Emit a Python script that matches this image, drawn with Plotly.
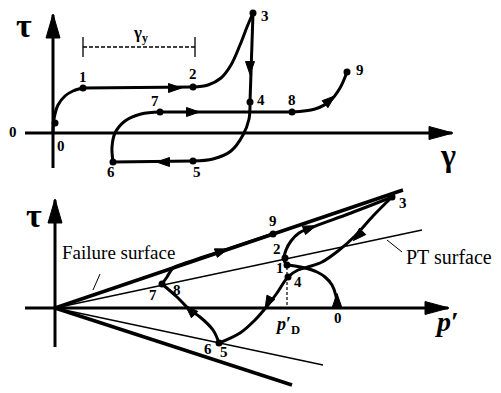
import math
import plotly.graph_objects as go

# ---------------- top panel: gamma (x) vs tau (y), origin at axis crossing
top_axis_g = [-28, 399]
top_axis_t = [-35, 118]

top_01_g = [0, 1, 5, 12, 20, 30]
top_01_t = [0, 14, 28, 37, 42, 45]
top_12_g = [30, 140]
top_12_t = [45, 46]
top_23_g = [140, 155, 168, 178, 187, 194, 200]
top_23_t = [46, 48, 55, 68, 88, 106, 120]
top_34_g = [200, 197]
top_34_t = [120, 31]
top_45_g = [197, 196, 190, 178, 160, 140]
top_45_t = [31, 14, -2, -18, -26, -28]
top_56_g = [140, 60]
top_56_t = [-28, -29]
top_67_g = [60, 59, 62, 72, 88, 107]
top_67_t = [-29, -14, 0, 12, 19, 21]
top_78_g = [107, 239]
top_78_t = [21, 21]
top_89_g = [239, 262, 277, 287, 294]
top_89_t = [21, 24, 32, 45, 61]

top_dot_g = [2, 30, 140, 200, 197, 140, 60, 107, 239, 294]
top_dot_t = [10, 45, 46, 120, 31, -28, -29, 21, 21, 61]

top_label = ["0", "1", "2", "3", "4", "5", "6", "7", "8", "9", "0"]
top_label_g = [8, 30, 140, 212, 208, 144, 58, 102, 239, 307, -40]
top_label_t = [-13, 56, 59, 117, 33, -39, -39, 32, 33, 63, 1]

top_arrow_g = [122, 197, 110, 140, 277]
top_arrow_t = [45, 65, -29, 21, 33]
top_arrow_deg = [90, 180, 270, 90, 50]

gy_bar_g = [30, 142]
gy_bar_t = [86, 86]
gy_tick_t = [76, 96]

# ---------------- bottom panel: p' (x) vs tau (y)
bot_axis_p = [-30, 393]
bot_axis_t = [-39, 108]

fail_up_p = [0, 348]
fail_up_t = [0, 118]
fail_lo_p = [0, 237]
fail_lo_t = [0, -77]
pt_up_p = [0, 367]
pt_up_t = [0, 78]
pt_lo_p = [0, 268]
pt_lo_t = [0, -57]

bot_01_p = [282, 281, 277, 270, 262, 250, 240, 232]
bot_01_t = [0, 12, 23, 31, 36, 40, 42, 43]
bot_123_p = [232, 229, 231, 236, 244, 255, 296, 337]
bot_123_t = [43, 48, 58, 67, 75, 80, 95, 111]
bot_345_p = [337, 318, 300, 283, 267, 253, 243, 233, 222, 213, 200, 185, 164]
bot_345_t = [111, 92, 72, 57, 46, 41, 38, 31, 15, 3, -12, -25, -35]
bot_57_p = [164, 158, 145, 135, 122, 107]
bot_57_t = [-35, -22, -9, -2, 11, 24]
bot_79_p = [107, 112, 118, 128, 170, 218]
bot_79_t = [24, 31, 40, 44, 58, 74]

bot_dot_p = [232, 230, 337, 233, 164, 107, 218]
bot_dot_t = [43, 50, 111, 31, -35, 24, 74]

bot_label = ["9", "2", "1", "4", "3", "0", "7", "8", "6", "5"]
bot_label_p = [218, 222, 225, 243, 348, 283, 98, 122, 153, 169]
bot_label_t = [87, 59, 40, 26, 105, -10, 13, 18, -41, -44]

bot_arrow_p = [282, 255, 303, 213, 135, 167]
bot_arrow_t = [8, 80, 72, 5, -2, 57]
bot_arrow_deg = [0, 69, 225, 207, 315, 71]

pd_line_p = [232, 232]
pd_line_t = [41, 0]

fail_lead_p = [45, 38]
fail_lead_t = [34, 18]
pt_lead_p = [332, 347]
pt_lead_t = [68, 56]

# page has an 8px body margin, so the figure is drawn 8px smaller and the
# ranges start 8px in
PAD = 8
W, H = 501 - PAD, 393 - PAD
SPLIT = 208 / H
SERIF = "Liberation Serif"

fig = go.Figure()


def line(x, y, panel, width=3, dash=None, spline=False):
    xa, ya = ("x", "y") if panel == 1 else ("x2", "y2")
    fig.add_trace(go.Scatter(
        x=x, y=y, xaxis=xa, yaxis=ya, mode="lines",
        line=dict(color="black", width=width, dash=dash,
                  shape="spline" if spline else "linear", smoothing=1.0),
        hoverinfo="skip", showlegend=False))


def heads(cx, cy, deg, panel, length=13, width=9):
    # filled triangular arrowheads centred on (cx, cy), pointing along deg
    xa, ya = ("x", "y") if panel == 1 else ("x2", "y2")
    xs, ys = [], []
    for x, y, d in zip(cx, cy, deg):
        ux, uy = math.sin(math.radians(d)), math.cos(math.radians(d))
        nx, ny = -uy, ux
        tipx, tipy = x + ux * length / 2, y + uy * length / 2
        bx, by = x - ux * length / 2, y - uy * length / 2
        xs += [tipx, bx + nx * width / 2, bx - nx * width / 2, tipx, None]
        ys += [tipy, by + ny * width / 2, by - ny * width / 2, tipy, None]
    fig.add_trace(go.Scatter(
        x=xs, y=ys, xaxis=xa, yaxis=ya, mode="lines", fill="toself",
        fillcolor="black", line=dict(color="black", width=1),
        hoverinfo="skip", showlegend=False))


def dots(x, y, panel):
    xa, ya = ("x", "y") if panel == 1 else ("x2", "y2")
    fig.add_trace(go.Scatter(
        x=x, y=y, xaxis=xa, yaxis=ya, mode="markers",
        marker=dict(color="black", size=7), hoverinfo="skip", showlegend=False))


def text(s, x, y, panel, size=15, **kw):
    xr, yr = ("x", "y") if panel == 1 else ("x2", "y2")
    fig.add_annotation(x=x, y=y, xref=xr, yref=yr, text=s, showarrow=False,
                       font=dict(family=SERIF, size=size, color="black"), **kw)


# top axes
line(top_axis_g, [0, 0], 1, width=3)
line([0, 0], top_axis_t, 1, width=3)
heads([top_axis_g[1] - 11], [0], [90], 1, length=24, width=13)
heads([0], [top_axis_t[1] - 11], [0], 1, length=24, width=14)

# top path
for gx, ty in [(top_01_g, top_01_t), (top_23_g, top_23_t), (top_45_g, top_45_t),
               (top_67_g, top_67_t), (top_89_g, top_89_t)]:
    line(gx, ty, 1, width=3, spline=True)
for gx, ty in [(top_12_g, top_12_t), (top_34_g, top_34_t),
               (top_56_g, top_56_t), (top_78_g, top_78_t)]:
    line(gx, ty, 1, width=3)
heads(top_arrow_g, top_arrow_t, top_arrow_deg, 1)
dots(top_dot_g, top_dot_t, 1)

# gamma_y dimension
line(gy_bar_g, gy_bar_t, 1, width=1.3, dash="4px,2px")
line([gy_bar_g[0]] * 2, gy_tick_t, 1, width=1.3)
line([gy_bar_g[1]] * 2, gy_tick_t, 1, width=1.3)
text("<b>γ<sub>y</sub></b>", 87, 99, 1, size=17)

for s, x, y in zip(top_label, top_label_g, top_label_t):
    text(f"<b>{s}</b>", x, y, 1)
text("<b>τ</b>", -29, 108, 1, size=34)
text("<b>γ</b>", 395, -22, 1, size=32)

# bottom axes and surfaces
line(bot_axis_p, [0, 0], 2, width=3)
line([0, 0], bot_axis_t, 2, width=3)
heads([bot_axis_p[1] - 11], [0], [90], 2, length=24, width=13)
heads([0], [bot_axis_t[1] - 11], [0], 2, length=24, width=14)
line(fail_up_p, fail_up_t, 2, width=3.5)
line(fail_lo_p, fail_lo_t, 2, width=3.5)
line(pt_up_p, pt_up_t, 2, width=1.5)
line(pt_lo_p, pt_lo_t, 2, width=1.5)
line(fail_lead_p, fail_lead_t, 2, width=1)
line(pt_lead_p, pt_lead_t, 2, width=1)
line(pd_line_p, pd_line_t, 2, width=1.2, dash="3px,2px")

# bottom path
for px, ty in [(bot_01_p, bot_01_t), (bot_123_p, bot_123_t), (bot_345_p, bot_345_t),
               (bot_57_p, bot_57_t), (bot_79_p, bot_79_t)]:
    line(px, ty, 2, width=3, spline=True)
heads(bot_arrow_p, bot_arrow_t, bot_arrow_deg, 2)
dots(bot_dot_p, bot_dot_t, 2)

for s, x, y in zip(bot_label, bot_label_p, bot_label_t):
    text(f"<b>{s}</b>", x, y, 2)
text("<b>τ</b>", -21, 93, 2, size=34)
text("<b><i>p</i>′</b>", 392, -13, 2, size=28)
text("<b><i>p</i>′<sub>D</sub></b>", 232, -17, 2, size=18)
text("Failure surface", 63, 56, 2, size=19)
text("PT surface", 394, 51, 2, size=20)

fig.update_layout(
    width=W, height=H, margin=dict(l=0, r=0, t=0, b=0),
    paper_bgcolor="white", plot_bgcolor="white", showlegend=False,
    xaxis=dict(domain=[0, 1], range=[-53 + PAD, 448], anchor="y", visible=False),
    yaxis=dict(domain=[SPLIT, 1], range=[-52, 133 - PAD], anchor="x", visible=False),
    xaxis2=dict(domain=[0, 1], range=[-55 + PAD, 446], anchor="y2", visible=False),
    yaxis2=dict(domain=[0, SPLIT], range=[-85, 123], anchor="x2", visible=False),
)

fig.write_html("out.html")
